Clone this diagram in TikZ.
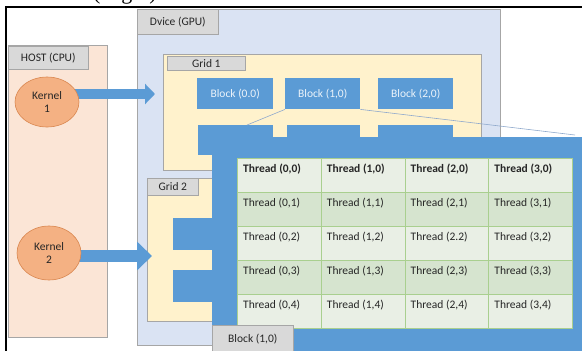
\documentclass[tikz,border=0pt]{standalone}
\usepackage{fontspec}
\setmainfont{Carlito}
\newfontfamily\capfont{Liberation Serif}
\usetikzlibrary{arrows.meta,positioning,calc,shapes.geometric}
\pgfdeclarelayer{front}
\pgfsetlayers{main,front}
\definecolor{hostfill}{HTML}{FBE5D6}
\definecolor{devfill}{HTML}{DAE3F3}
\definecolor{gridfill}{HTML}{FFF2CC}
\definecolor{labfill}{HTML}{D9D9D9}
\definecolor{panelline}{HTML}{A6A6A6}
\definecolor{blockblue}{HTML}{5B9BD5}
\definecolor{kfill}{HTML}{F4B183}
\definecolor{kline}{HTML}{D9864F}
\definecolor{rowlight}{HTML}{E9EFE5}
\definecolor{rowdark}{HTML}{D6E4CF}
\definecolor{cellline}{HTML}{A9CF8F}
\definecolor{zoomline}{HTML}{8FA9CC}
\definecolor{txt}{HTML}{262626}
\tikzset{
  x=1pt, y=-1pt,
  every node/.style={font=\fontsize{11.5}{13}\selectfont, text=txt},
  box/.style={draw=panelline, line width=0.6pt, inner sep=0pt, anchor=north west},
  panelbox/.style={box},
  tagbox/.style={box, fill=labfill},
  blockbox/.style={rectangle, fill=blockblue, inner sep=0pt, anchor=north west, text=white!88!blockblue},
  kernel/.style={ellipse, fill=kfill, draw=kline, line width=0.6pt, align=center, inner sep=0pt},
  bigarrow/.style={draw=blockblue, fill=blockblue},
  cellbox/.style={rectangle, draw=cellline, line width=0.5pt, inner sep=0pt, anchor=north west, minimum width=83.75pt, minimum height=34pt},
  celltext/.style={anchor=west, inner sep=0pt},
  zoomlink/.style={draw=zoomline, line width=0.6pt},
  frameline/.style={draw=black, line width=2pt},
  captext/.style={anchor=base west, inner sep=0pt, font=\capfont\fontsize{22}{24}\selectfont, text=black}
}
\begin{document}
\begin{tikzpicture}
\useasboundingbox (0,0) rectangle (582,351);
% clipped caption remnant (only its lowest part lies inside the picture)
\begin{scope}
  \clip (0,0) rectangle (582,6);
  \node[captext] (cap) at (93,-0.5) {(Right)};
\end{scope}
% frame lines
\coordinate (fTL) at (5.5,7);
\coordinate (fTR) at (582,7);
\coordinate (fBL) at (5.5,351);
\draw[frameline] (fBL) -- (fTL) -- (fTR);

% host
\node[panelbox, fill=hostfill, minimum width=99pt, minimum height=292pt] (host) at (8,45) {};
\node[tagbox, minimum width=80pt, minimum height=23pt] (hostlab) at (8,46) {HOST (CPU)};

% device
\node[panelbox, fill=devfill, minimum width=363pt, minimum height=336pt] (dev) at (137,9) {};
\node[tagbox, minimum width=81pt, minimum height=25pt] (devlab) at (137,9) {Dvice (GPU)};

% grid 1
\node[panelbox, fill=gridfill, minimum width=318pt, minimum height=116pt] (grid1) at (163,54) {};
\node[tagbox, minimum width=78pt, minimum height=14pt] (grid1lab) at (167,56) {Grid 1};
\node[blockbox, minimum width=76pt, minimum height=31pt] (b00) at (197,78) {Block (0.0)};
\node[blockbox, minimum width=75pt, minimum height=31pt] (b10) at (285,78) {Block (1,0)};
\node[blockbox, minimum width=75pt, minimum height=31pt] (b20) at (378,78) {Block (2,0)};
\node[blockbox, minimum width=75pt, minimum height=30pt] (b01) at (198,125) {};
\node[blockbox, minimum width=73pt, minimum height=30pt] (b11) at (287,125) {};
\node[blockbox, minimum width=75pt, minimum height=30pt] (b21) at (378,125) {};

% zoom lines
\coordinate (zl) at (247,125);
\coordinate (zr) at (575,135);
\draw[zoomlink] (b10.south west) -- (zl);
\draw[zoomlink] (b10.south east) -- (zr);

% grid 2
\node[panelbox, fill=gridfill, minimum width=90pt, minimum height=143pt] (grid2) at (147,178) {};
\node[tagbox, minimum width=51pt, minimum height=17pt] (grid2lab) at (147,178) {Grid 2};
\node[blockbox, minimum width=60pt, minimum height=32pt] (g2a) at (173,218) {};
\node[blockbox, minimum width=60pt, minimum height=32pt] (g2b) at (173,270) {};

% kernels (front layer) and arrows
\begin{pgfonlayer}{front}
\node[kernel, minimum width=64pt, minimum height=50pt] (k1) at (47,102) {Kernel\\1};
\node[kernel, minimum width=64pt, minimum height=54pt] (k2) at (49,253) {Kernel\\2};
\end{pgfonlayer}
\coordinate (t1) at (155,94);
\coordinate (t2) at (152,256);
\draw[bigarrow, line width=10pt, -{Triangle[width=20pt,length=10pt]}]
  ($(k1.east |- t1)+(-6,0)$) -- (t1);
\draw[bigarrow, line width=12pt, -{Triangle[width=28pt,length=15pt]}]
  ($(k2.east |- t2)+(-6,0)$) -- (t2);

% thread panel
\node[rectangle, fill=blockblue, inner sep=0pt, anchor=north west, minimum width=372pt, minimum height=216pt] (tp) at (212,137) {};

% thread table
\foreach \r in {0,...,4}{
  \pgfmathsetmacro{\ry}{158+34*\r}
  \ifodd\r \def\rc{rowdark}\else\def\rc{rowlight}\fi
  \foreach \c in {0,...,3}{
    \pgfmathsetmacro{\cx}{237+83.75*\c}
    \node[cellbox, fill=\rc] (cell-\c-\r) at (\cx,\ry) {};
  }
}
\foreach \c in {0,...,3}{
  \node[celltext, font=\fontsize{11.5}{13}\selectfont\bfseries] (tt-\c-0) at ($(cell-\c-0.north west)+(6,11)$) {Thread (\c,0)};
}
\foreach \r in {1,...,4}{
  \foreach \c in {0,...,3}{
    \ifnum\c\r=22
      \node[celltext] (tt-\c-\r) at ($(cell-\c-\r.north west)+(6,11)$) {Thread (2.2)};
    \else
      \node[celltext] (tt-\c-\r) at ($(cell-\c-\r.north west)+(6,11)$) {Thread (\c,\r)};
    \fi
  }
}

% block label
\node[tagbox, minimum width=81pt, minimum height=28pt] (blab) at (212,325) {Block (1,0)};
\end{tikzpicture}
\end{document}
